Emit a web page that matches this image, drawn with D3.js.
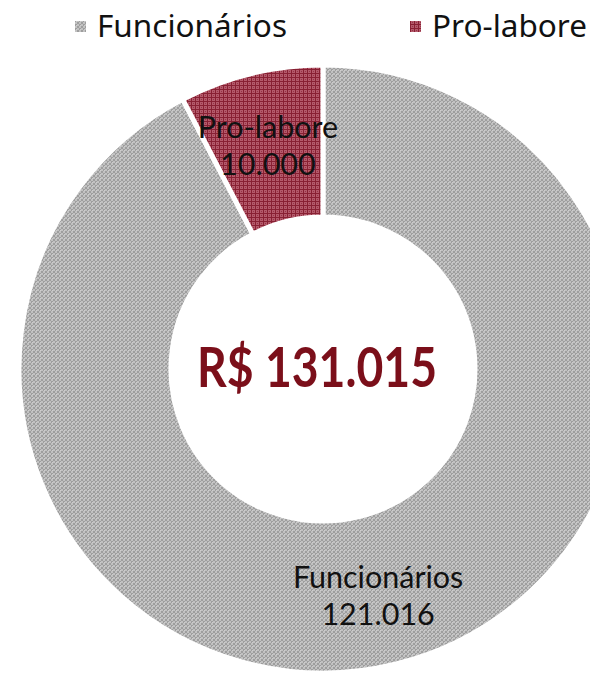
<!DOCTYPE html>
<html>
<head>
<meta charset="utf-8">
<script src="https://cdn.jsdelivr.net/npm/d3@7"></script>
<style>
  body { margin: 0; background: #fff; }
  svg { display: block; }
  .legend_str { font-family: "Noto Sans", "DejaVu Sans", sans-serif; font-size: 31.5px; fill: #111; }
  .slice_str { font-family: Lato, "Noto Sans", sans-serif; font-size: 30.5px; fill: #111; }
  .total_str { font-family: Lato, "Noto Sans", sans-serif; font-weight: bold; font-size: 55px; fill: #7b0f1a; }
</style>
</head>
<body>
<svg id="chart" width="590" height="675"></svg>
<script>
// data
var categories = ['Funcionários', 'Pro-labore'];
var values = [121016, 10000];
var valueLabels = ['121.016', '10.000'];
var totalLabel = 'R$ 131.015';

var width = 590, height = 675;
var cx = 323, cy = 369;
var outerR = 304, innerR = 152, labelR = 232;

var svg = d3.select('#chart');
var defs = svg.append('defs');

// grey checker pattern
var pg = defs.append('pattern')
  .attr('id', 'pat_grey')
  .attr('width', 4).attr('height', 4)
  .attr('patternUnits', 'userSpaceOnUse');
pg.append('rect').attr('width', 4).attr('height', 4).attr('fill', '#c2c2c2');
pg.append('rect').attr('x', 0).attr('y', 0).attr('width', 2).attr('height', 2).attr('fill', '#9e9e9e');
pg.append('rect').attr('x', 2).attr('y', 2).attr('width', 2).attr('height', 2).attr('fill', '#9e9e9e');
pg.append('rect').attr('x', 1).attr('y', 1).attr('width', 1).attr('height', 1).attr('fill', '#cdcdcd');

// red grid pattern
var pr = defs.append('pattern')
  .attr('id', 'pat_red')
  .attr('width', 4).attr('height', 4)
  .attr('patternUnits', 'userSpaceOnUse');
pr.append('rect').attr('width', 4).attr('height', 4).attr('fill', '#b45a6b');
pr.append('rect').attr('x', 0).attr('y', 0).attr('width', 4).attr('height', 1).attr('fill', '#882033');
pr.append('rect').attr('x', 0).attr('y', 0).attr('width', 1).attr('height', 4).attr('fill', '#882033');
pr.append('rect').attr('x', 2).attr('y', 2).attr('width', 1).attr('height', 1).attr('fill', '#963347');

var fills = d3.scaleOrdinal().domain(categories).range(['url(#pat_grey)', 'url(#pat_red)']);

var pie = d3.pie().sort(null).value(function(d) { return d.value; });
var arcs = pie(categories.map(function(c, i) {
  return { name: c, value: values[i], label: valueLabels[i] };
}));

var arc = d3.arc().innerRadius(innerR).outerRadius(outerR);
var labelArc = d3.arc().innerRadius(labelR).outerRadius(labelR);

var g = svg.append('g').attr('transform', 'translate(' + cx + ',' + cy + ')');

g.selectAll('path.slice')
  .data(arcs)
  .enter().append('path')
  .attr('class', 'slice')
  .attr('d', arc)
  .attr('fill', function(d) { return fills(d.data.name); })
  .attr('stroke', '#fff')
  .attr('stroke-width', 5)
  .attr('stroke-linejoin', 'miter');

// slice labels, two lines each
var lab = g.selectAll('g.slice_lab')
  .data(arcs)
  .enter().append('g')
  .attr('class', 'slice_lab')
  .attr('transform', function(d) { return 'translate(' + labelArc.centroid(d) + ')'; });
lab.append('text')
  .attr('class', 'slice_str')
  .attr('text-anchor', 'middle')
  .attr('y', -6)
  .text(function(d) { return d.data.name; });
lab.append('text')
  .attr('class', 'slice_str')
  .attr('text-anchor', 'middle')
  .attr('y', 31)
  .text(function(d) { return d.data.label; });

// total in the hole
svg.append('text')
  .attr('class', 'total_str')
  .attr('x', 317)
  .attr('y', 387)
  .attr('text-anchor', 'middle')
  .attr('textLength', 240)
  .attr('lengthAdjust', 'spacingAndGlyphs')
  .text(totalLabel);

// legend
var legendX = [75, 410];
var leg = svg.selectAll('g.legend')
  .data(categories)
  .enter().append('g')
  .attr('class', 'legend')
  .attr('transform', function(d, i) { return 'translate(' + legendX[i] + ',0)'; });
leg.append('rect')
  .attr('x', 0).attr('y', 21)
  .attr('width', 11).attr('height', 11)
  .attr('fill', function(d) { return fills(d); });
leg.append('text')
  .attr('class', 'legend_str')
  .attr('x', 22)
  .attr('y', 37)
  .text(function(d) { return d; });
</script>
</body>
</html>
